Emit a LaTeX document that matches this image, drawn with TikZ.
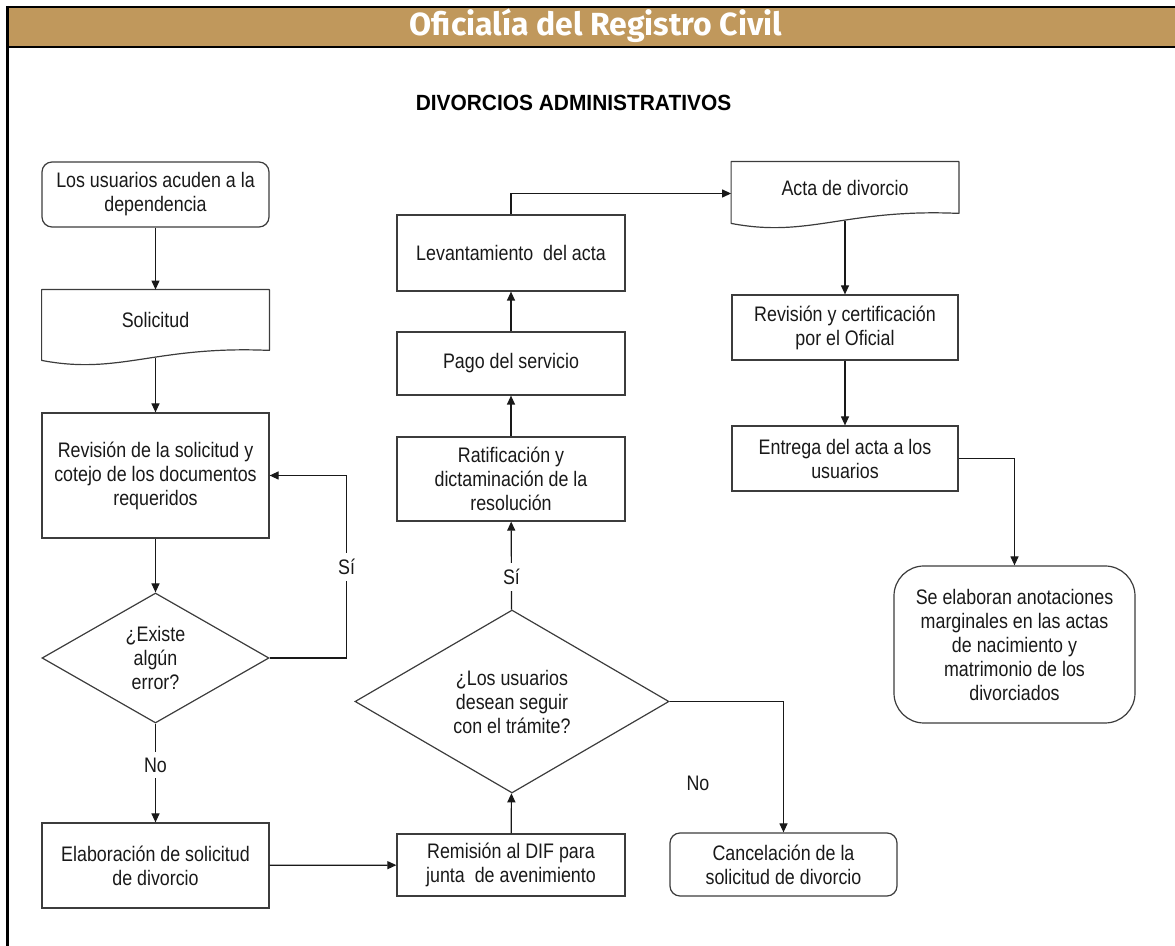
\documentclass[tikz,border=0pt]{standalone}
\usepackage{fontspec}
\setmainfont{Liberation Sans}
\newfontfamily\narrowsans[FakeStretch=0.85]{Liberation Sans}
\newfontfamily\headsans[FakeStretch=0.95]{Liberation Sans}
\newfontfamily\titlesans{Fira Sans}
\usetikzlibrary{shapes.geometric,arrows.meta}
\definecolor{headbrown}{RGB}{192,152,92}
\definecolor{boxline}{RGB}{60,60,60}
\definecolor{txt}{RGB}{25,25,25}
% outline of a document box: flat top, wavy bottom
\newcommand\docoutline[1]{%
  \draw[boxline, line width=0.6pt, line join=round] (#1.north west) -- (#1.north east) -- (#1.south east)
    .. controls +(-114,-5) and +(78,15) .. ([yshift=-5pt]#1.south west) -- cycle;}
\begin{document}
\begin{tikzpicture}[x=0.5pt,y=-0.5pt,
    every node/.style={font=\narrowsans\fontsize{10.5}{12}\selectfont, text=txt, align=center, inner sep=0pt},
    proc/.style={rectangle, draw=boxline, line width=0.6pt, minimum width=113.5pt},
    term/.style={proc, rounded corners=5pt},
    doc/.style={rectangle, minimum width=113.5pt},
    dec/.style={diamond, draw=boxline, line width=0.6pt, aspect=1.75},
    arr/.style={-{Triangle[length=4.5pt,width=4pt]}, line width=0.6pt, color=txt},
    lbl/.style={fill=white, inner sep=3pt}]
  \useasboundingbox (0,0) rectangle (1175,946);
  % header and frame
  \fill[headbrown] (7,7) rectangle (1175,47);
  \draw[line width=1pt] (7,7) -- (1175,7);
  \draw[line width=1pt] (7,47) -- (1175,47);
  \draw[line width=1.5pt] (7.5,6) -- (7.5,946);
  \node[font=\titlesans\bfseries\fontsize{16}{18}\selectfont, text=white, anchor=base] (title) at (596,36) {Oficialía del Registro Civil};
  \node[font=\headsans\bfseries\fontsize{11}{13}\selectfont, text=black, anchor=base] (subtitle) at (573.5,111) {DIVORCIOS ADMINISTRATIVOS};

  % left column
  \node[term, minimum height=32.5pt] (arrive) at (155.5,194.5) {Los usuarios acuden a la\\dependencia};
  \node[doc, minimum height=30pt] (req) at (155.5,320) {Solicitud};
  \docoutline{req}
  \node[proc, minimum height=62.5pt] (check) at (155.5,475.5) {Revisión de la solicitud y\\cotejo de los documentos\\requeridos};
  \node[dec, minimum width=113.5pt, minimum height=65pt] (err) at (155.5,658) {¿Existe\\algún\\error?};
  \node[proc, minimum height=42.5pt] (draft) at (155.5,865.5) {Elaboración de solicitud\\de divorcio};

  % middle column
  \node[proc, minimum width=114pt, minimum height=31pt] (dif) at (511,865) {Remisión al DIF para\\junta~ de avenimiento};
  \node[dec, minimum width=157pt, minimum height=91.5pt] (go) at (512,701.5) {¿Los usuarios\\desean seguir\\con el trámite?};
  \node[term, minimum height=31.5pt] (cancel) at (783.5,864.5) {Cancelación de la\\solicitud de divorcio};
  \node[proc, minimum width=114pt, minimum height=42pt] (ratify) at (511,479) {Ratificación y\\dictaminación de la\\resolución};
  \node[proc, minimum width=114pt, minimum height=31.5pt] (pay) at (511,363.5) {Pago del servicio};
  \node[proc, minimum width=114pt, minimum height=38pt] (record) at (511,253) {Levantamiento~ del acta};

  % right column
  \node[doc, minimum height=25.5pt] (cert) at (845,187.5) {Acta de divorcio};
  \docoutline{cert}
  \node[proc, minimum width=113pt, minimum height=32.5pt] (review) at (845,327.5) {Revisión y certificación\\por el Oficial};
  \node[proc, minimum width=113pt, minimum height=32.5pt] (hand) at (845,458.5) {Entrega del acta a los\\usuarios};
  \node[term, rounded corners=15pt, minimum width=120.5pt, minimum height=78.5pt] (notes) at (1014.5,644.5) {Se elaboran anotaciones\\marginales en las actas\\de nacimiento y\\matrimonio de los\\divorciados};
  \node (nolabel) at (698,783) {No};

  % connectors
  \draw[arr] (arrive) -- (req);
  \draw[arr] ([yshift=-4pt]req.south) -- (check.north);
  \draw[arr] (check) -- (err);
  \draw[arr] (err.east) -- ++(77,0) |- node[lbl, pos=0.25] {Sí} (check.east);
  \draw[arr] (err) -- node[lbl, pos=0.42] {No} (draft);
  \draw[arr] (draft) -- (dif);
  \draw[arr] (dif) -- (go);
  \draw[arr] (go.east) -| (cancel.north);
  \draw[arr] (go) -- node[lbl, pos=0.37] {Sí} (ratify);
  \draw[arr] (ratify) -- (pay);
  \draw[arr] (pay) -- (record);
  \draw[arr] (record.north) |- ([yshift=-3pt]cert.west);
  \draw[arr] ([yshift=-4pt]cert.south) -- (review.north);
  \draw[arr] (review) -- (hand);
  \draw[arr] (hand.east) -| (notes.north);
\end{tikzpicture}
\end{document}
